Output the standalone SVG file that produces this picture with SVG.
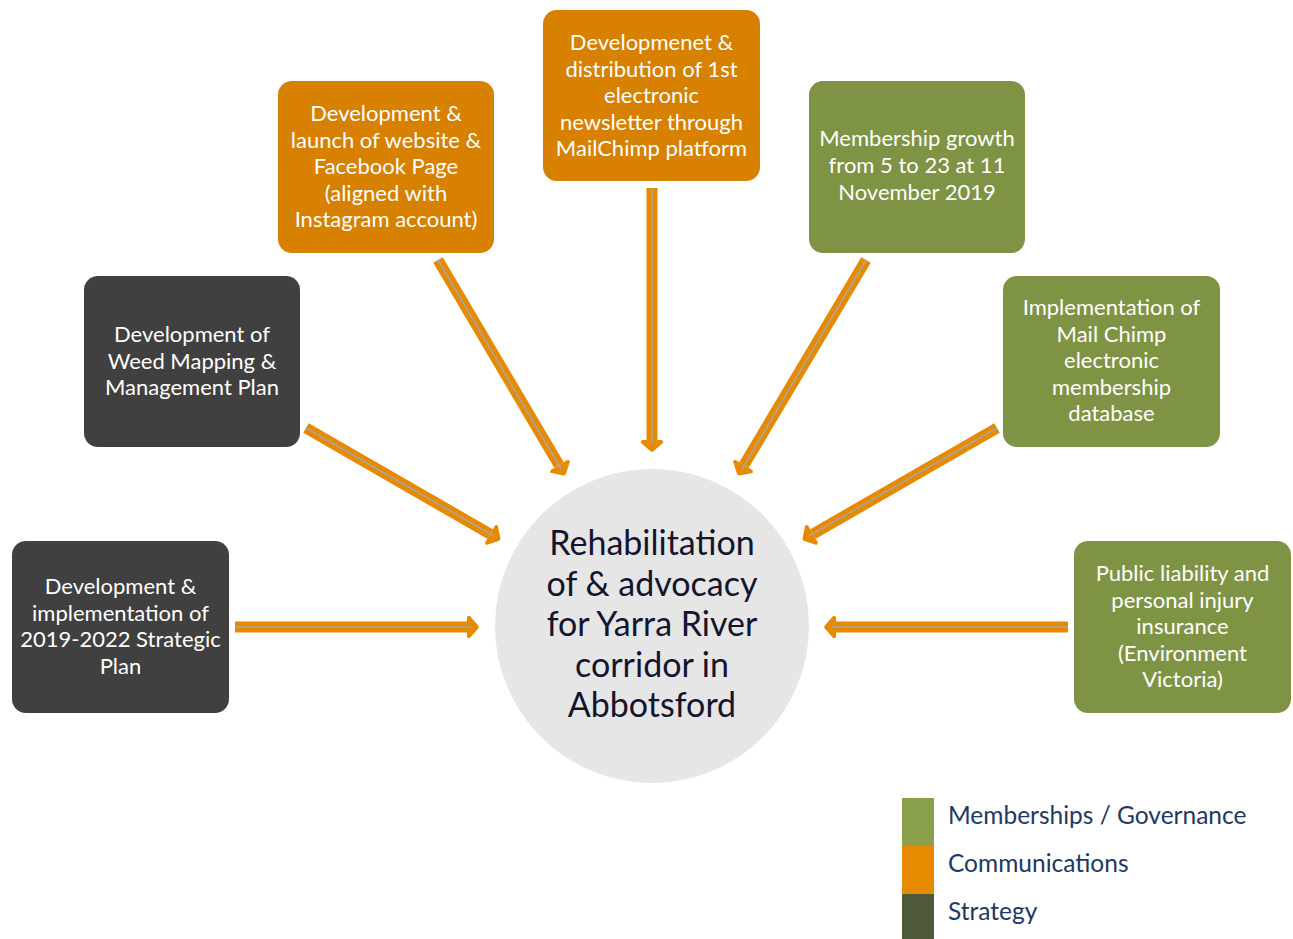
<svg xmlns="http://www.w3.org/2000/svg" width="1293" height="939" viewBox="0 0 1293 939">
<defs>
<style>
.box{rx:14px;}
.or{fill:#D88000;}
.gr{fill:#7E9444;}
.dk{fill:#404040;}
.t{font-family:Lato,"Open Sans","Liberation Sans",sans-serif;font-size:22px;fill:#FFFFFF;text-anchor:middle;}
.ct{font-family:Lato,"Open Sans","Liberation Sans",sans-serif;font-size:34px;fill:#14142E;text-anchor:middle;}
.lg{font-family:Lato,"Open Sans","Liberation Sans",sans-serif;font-size:24.5px;fill:#203864;}
.band{stroke:#E88A00;stroke-width:11;fill:none;marker-end:url(#head);}
.core{stroke:#A6A6A6;stroke-width:1.5;fill:none;}
</style>
<marker id="head" markerUnits="userSpaceOnUse" markerWidth="20" markerHeight="24" refX="0" refY="10" orient="auto" viewBox="0 0 10 20">
<path d="M0,1.5 L2,0.5 L9.5,9 Q10,10 9.5,11 L2,19.5 L0,18.5 Z" fill="#E88A00"/>
</marker>
</defs>

<g id="connectors">
<line class="band" x1="235" y1="627" x2="467" y2="627"/>
<line class="core" x1="235" y1="627" x2="471" y2="627"/>
<line class="band" x1="1068" y1="627" x2="836" y2="627"/>
<line class="core" x1="1068" y1="627" x2="832" y2="627"/>
<line class="band" x1="652" y1="188" x2="652" y2="440"/>
<line class="core" x1="652" y1="188" x2="652" y2="444"/>
<line class="band" x1="438" y1="260" x2="559" y2="465"/>
<line class="core" x1="438" y1="260" x2="561" y2="469"/>
<line class="band" x1="866" y1="260" x2="744" y2="465"/>
<line class="core" x1="866" y1="260" x2="742" y2="469"/>
<line class="band" x1="306" y1="428" x2="490" y2="534"/>
<line class="core" x1="306" y1="428" x2="494" y2="536"/>
<line class="band" x1="997" y1="428" x2="813" y2="534"/>
<line class="core" x1="997" y1="428" x2="809" y2="536"/>
</g>

<g id="center">
<circle cx="652" cy="626" r="157" fill="#E6E6E6"/>
<text class="ct" x="652" y="555">Rehabilitation</text>
<text class="ct" x="652" y="596">of &amp; advocacy</text>
<text class="ct" x="652" y="636">for Yarra River</text>
<text class="ct" x="652" y="677">corridor in</text>
<text class="ct" x="652" y="717">Abbotsford</text>
</g>

<g id="node-newsletter">
<rect class="box or" x="543" y="10" width="217" height="171"/>
<text class="t" x="651.5" y="50">Developmenet &amp;</text>
<text class="t" x="651.5" y="76.5">distribution of 1st</text>
<text class="t" x="651.5" y="103">electronic</text>
<text class="t" x="651.5" y="129.5">newsletter through</text>
<text class="t" x="651.5" y="156">MailChimp platform</text>
</g>

<g id="node-website">
<rect class="box or" x="278" y="81" width="216" height="172"/>
<text class="t" x="386" y="121">Development &amp;</text>
<text class="t" x="386" y="147.5">launch of website &amp;</text>
<text class="t" x="386" y="174">Facebook Page</text>
<text class="t" x="386" y="200.5">(aligned with</text>
<text class="t" x="386" y="227">Instagram account)</text>
</g>

<g id="node-membership">
<rect class="box gr" x="809" y="81" width="216" height="172"/>
<text class="t" x="917" y="146">Membership growth</text>
<text class="t" x="917" y="173">from 5 to 23 at 11</text>
<text class="t" x="917" y="200">November 2019</text>
</g>

<g id="node-weed">
<rect class="box dk" x="84" y="276" width="216" height="171"/>
<text class="t" x="192" y="342">Development of</text>
<text class="t" x="192" y="368.5">Weed Mapping &amp;</text>
<text class="t" x="192" y="395">Management Plan</text>
</g>

<g id="node-mailchimp">
<rect class="box gr" x="1003" y="276" width="217" height="171"/>
<text class="t" x="1111.5" y="315">Implementation of</text>
<text class="t" x="1111.5" y="341.5">Mail Chimp</text>
<text class="t" x="1111.5" y="368">electronic</text>
<text class="t" x="1111.5" y="394.5">membership</text>
<text class="t" x="1111.5" y="421">database</text>
</g>

<g id="node-strategic">
<rect class="box dk" x="12" y="541" width="217" height="172"/>
<text class="t" x="120.5" y="594">Development &amp;</text>
<text class="t" x="120.5" y="620.5">implementation of</text>
<text class="t" x="120.5" y="647">2019-2022 Strategic</text>
<text class="t" x="120.5" y="673.5">Plan</text>
</g>

<g id="node-insurance">
<rect class="box gr" x="1074" y="541" width="217" height="172"/>
<text class="t" x="1182.5" y="581">Public liability and</text>
<text class="t" x="1182.5" y="607.5">personal injury</text>
<text class="t" x="1182.5" y="634">insurance</text>
<text class="t" x="1182.5" y="660.5">(Environment</text>
<text class="t" x="1182.5" y="687">Victoria)</text>
</g>

<g id="legend">
<rect x="902" y="798" width="32" height="48" fill="#8AA04B"/>
<rect x="902" y="846" width="32" height="48" fill="#E88A00"/>
<rect x="902" y="894" width="32" height="45" fill="#4F5A3A"/>
<text class="lg" x="948" y="824">Memberships / Governance</text>
<text class="lg" x="948" y="872">Communications</text>
<text class="lg" x="948" y="920">Strategy</text>
</g>
</svg>
